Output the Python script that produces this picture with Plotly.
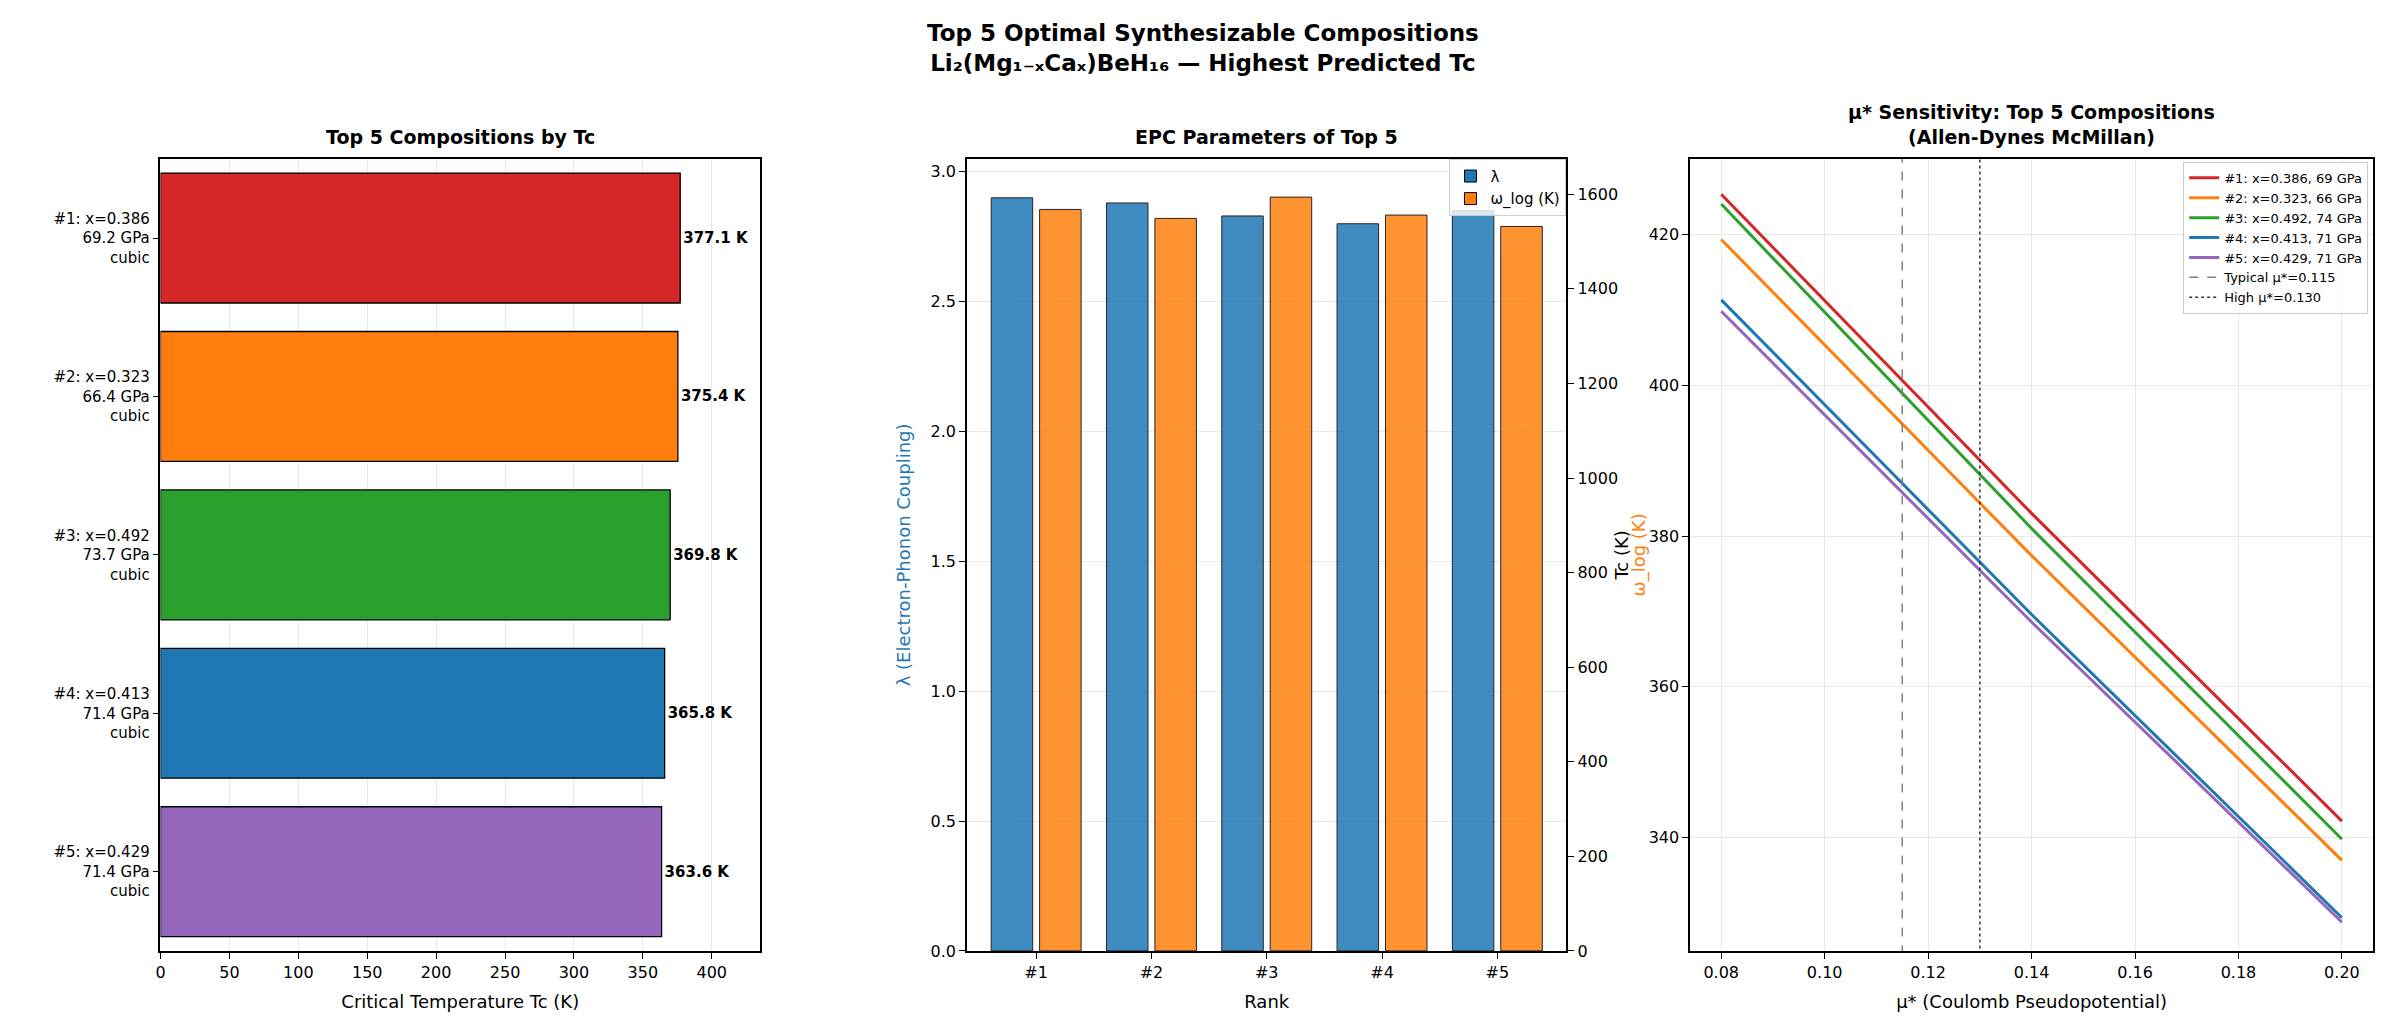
import plotly.graph_objects as go

# data
ranks = ["#1", "#2", "#3", "#4", "#5"]
x_frac = [0.386, 0.323, 0.492, 0.413, 0.429]
pressure = [69.2, 66.4, 73.7, 71.4, 71.4]
tc = [377.1, 375.4, 369.8, 365.8, 363.6]
lam = [2.90, 2.88, 2.83, 2.80, 2.85]
wlog = [1568, 1549, 1594, 1556, 1532]
colors = ["#d62728", "#ff7f0e", "#2ca02c", "#1f77b4", "#9467bd"]

mu = [0.08, 0.14, 0.20]
tc_mu = [
    [425.3, 383.0, 342.2],
    [419.3, 377.4, 337.0],
    [424.0, 381.0, 339.8],
    [411.3, 369.6, 329.4],
    [409.8, 368.6, 328.8],
]
mu_typ, mu_high = 0.115, 0.130

FONT = "DejaVu Sans"
fig = go.Figure()

# left panel
labels = [f"{r}: x={x:.3f}<br>{p:.1f} GPa<br>cubic" for r, x, p in zip(ranks, x_frac, pressure)]
fig.add_trace(go.Bar(
    y=labels, x=tc, orientation="h", marker=dict(color=colors, line=dict(color="black", width=1.3)),
    width=0.82, text=[f"<b>{v:.1f} K</b>" for v in tc], textposition="outside",
    textfont=dict(size=15, color="black"), cliponaxis=False, showlegend=False,
    xaxis="x", yaxis="y"))

# middle panel
fig.add_trace(go.Bar(
    x=ranks, y=lam, name="λ", marker=dict(color="#1f77b4", opacity=0.85, line=dict(color="black", width=1)),
    width=0.36, offset=-0.39, xaxis="x2", yaxis="y2", legend="legend2"))
fig.add_trace(go.Bar(
    x=ranks, y=wlog, name="ω_log (K)", marker=dict(color="#ff7f0e", opacity=0.85, line=dict(color="black", width=1)),
    width=0.36, offset=0.03, xaxis="x2", yaxis="y3", legend="legend2"))

# right panel
for i in range(5):
    fig.add_trace(go.Scatter(
        x=mu, y=tc_mu[i], mode="lines", line=dict(color=colors[i], width=3),
        name=f"{ranks[i]}: x={x_frac[i]:.3f}, {pressure[i]:.0f} GPa",
        xaxis="x4", yaxis="y4", legend="legend3"))
fig.add_trace(go.Scatter(x=[mu_typ, mu_typ], y=[0, 1000], mode="lines",
                         line=dict(color="gray", width=1.5, dash="dash"),
                         name=f"Typical μ*={mu_typ:.3f}", xaxis="x4", yaxis="y4", legend="legend3"))
fig.add_trace(go.Scatter(x=[mu_high, mu_high], y=[0, 1000], mode="lines",
                         line=dict(color="#333333", width=1.5, dash="dot"),
                         name=f"High μ*={mu_high:.3f}", xaxis="x4", yaxis="y4", legend="legend3"))

ax = dict(showline=True, linecolor="black", linewidth=1.5, mirror=True, ticks="outside",
          tickcolor="black", ticklen=6, tickfont=dict(size=16, color="black"),
          gridcolor="#e8e8e8", zeroline=False)

fig.update_layout(
    width=2384, height=1036, plot_bgcolor="white", paper_bgcolor="white",
    font=dict(family=FONT, color="black"),
    margin=dict(l=0, r=0, t=0, b=0), bargap=0.18,
    xaxis=dict(ax, domain=[0.062, 0.314], range=[0, 435], dtick=50, anchor="y",
               title=dict(text="Critical Temperature Tc (K)", font=dict(size=18))),
    yaxis=dict(ax, domain=[0.081, 0.853], autorange="reversed", showgrid=False, anchor="x",
               tickfont=dict(size=15, color="black")),
    xaxis2=dict(ax, domain=[0.401, 0.653], anchor="y2", showgrid=False, range=[-0.6, 4.6],
                title=dict(text="Rank", font=dict(size=18))),
    yaxis2=dict(ax, domain=[0.081, 0.853], range=[0, 3.05], dtick=0.5, tickformat=".1f", anchor="x2",
                mirror=False,
                title=dict(text="λ (Electron-Phonon Coupling)", font=dict(size=18, color="#1f77b4"))),
    yaxis3=dict(ax, overlaying="y2", side="right", range=[0, 1675], dtick=200, anchor="x2",
                showgrid=False, mirror=False,
                title=dict(text="ω_log (K)", font=dict(size=18, color="#ff7f0e"))),
    xaxis4=dict(ax, domain=[0.705, 0.992], range=[0.074, 0.206], dtick=0.02, tickformat=".2f", anchor="y4",
                title=dict(text="μ* (Coulomb Pseudopotential)", font=dict(size=18))),
    yaxis4=dict(ax, domain=[0.081, 0.853], range=[325, 430], dtick=20, anchor="x4",
                title=dict(text="Tc (K)", font=dict(size=18))),
    legend2=dict(x=0.653, y=0.853, xanchor="right", yanchor="top", bgcolor="rgba(255,255,255,0.8)",
                 bordercolor="#cccccc", borderwidth=1, font=dict(size=15)),
    legend3=dict(x=0.99, y=0.85, xanchor="right", yanchor="top", bgcolor="rgba(255,255,255,0.8)",
                 bordercolor="#cccccc", borderwidth=1, font=dict(size=13), tracegroupgap=0),
    annotations=[
        dict(text="<b>Top 5 Optimal Synthesizable Compositions<br>Li₂(Mg₁₋ₓCaₓ)BeH₁₆ — Highest Predicted Tc</b>",
             x=0.5, y=0.99, xref="paper", yref="paper", xanchor="center", yanchor="top",
             showarrow=False, font=dict(size=23)),
        dict(text="<b>Top 5 Compositions by Tc</b>", x=0.188, y=0.862, xref="paper", yref="paper",
             xanchor="center", yanchor="bottom", showarrow=False, font=dict(size=19)),
        dict(text="<b>EPC Parameters of Top 5</b>", x=0.527, y=0.862, xref="paper", yref="paper",
             xanchor="center", yanchor="bottom", showarrow=False, font=dict(size=19)),
        dict(text="<b>μ* Sensitivity: Top 5 Compositions<br>(Allen-Dynes McMillan)</b>", x=0.8485, y=0.862,
             xref="paper", yref="paper", xanchor="center", yanchor="bottom", showarrow=False,
             font=dict(size=19)),
    ],
)

fig.write_html("out.html")
